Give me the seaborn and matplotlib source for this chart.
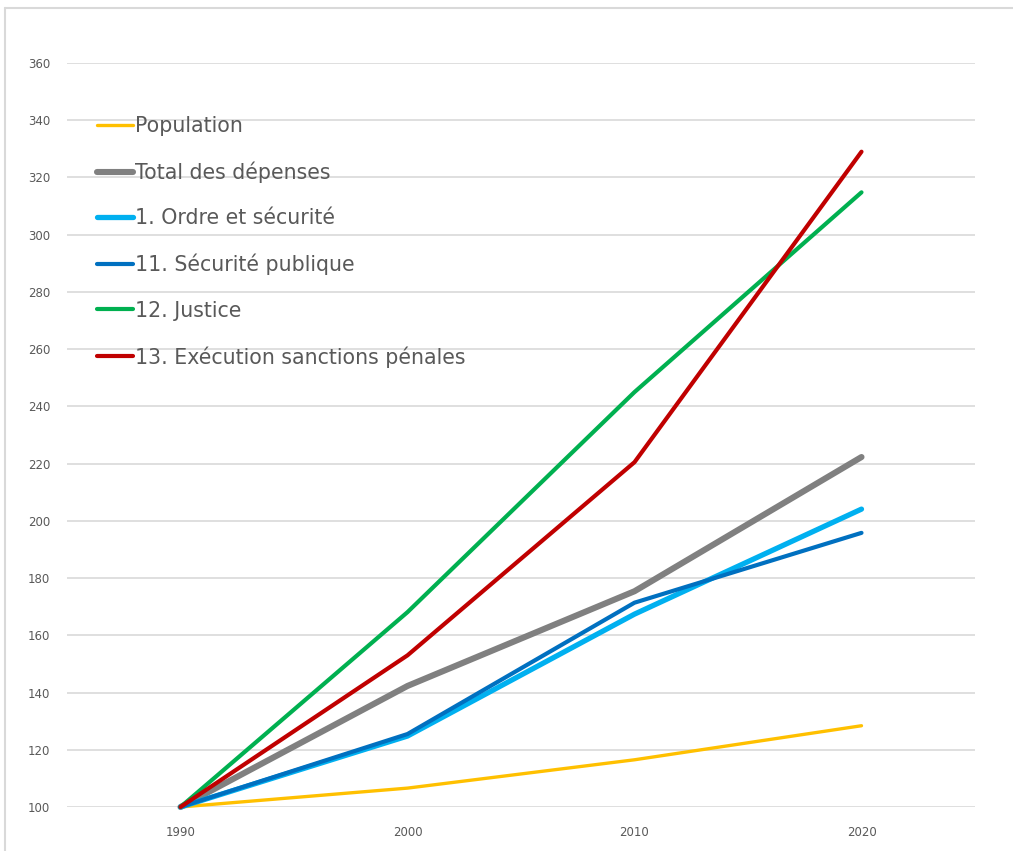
import pandas as pd
import matplotlib.pyplot as plt
import matplotlib.lines as mlines
import seaborn as sns

# Données (indice 1990 = 100)
annees = ['1990', '2000', '2010', '2020']
population = [100, 106.6, 116.5, 128.4]
total_depenses = [100, 142.3, 175.4, 222.3]
ordre_securite = [100, 124.8, 167.4, 204.1]
securite_publique = [100, 125.5, 171.4, 195.8]
justice = [100, 168.1, 245.0, 314.8]
execution_sanctions = [100, 153.0, 220.5, 329.0]

series = ['Population', 'Total des dépenses', '1. Ordre et sécurité',
          '11. Sécurité publique', '12. Justice', '13. Exécution sanctions pénales']
valeurs = [population, total_depenses, ordre_securite, securite_publique,
           justice, execution_sanctions]
couleurs = ['#FFC000', '#808080', '#00B0F0', '#0070C0', '#00B050', '#C00000']
epaisseurs = [2.4, 4.4, 3.8, 3.0, 3.0, 3.0]

df = pd.DataFrame({
    'pos': list(range(len(annees))) * len(series),
    'serie': [s for s in series for _ in annees],
    'valeur': [v for vals in valeurs for v in vals],
})

sns.set_style('white')
plt.rcParams['font.family'] = ['DejaVu Sans']

fig = plt.figure(figsize=(10.13, 8.51), dpi=100)
ax = fig.add_axes([67 / 1013, 44 / 851, 908 / 1013, 744 / 851])

for s, c, lw in zip(series, couleurs, epaisseurs):
    sub = df[df['serie'] == s]
    sns.lineplot(data=sub, x='pos', y='valeur', color=c, linewidth=lw, ax=ax,
                 solid_capstyle='round', clip_on=False, legend=False)

ax.set_xlim(-0.5, 3.5)
ax.set_ylim(100, 360)
ax.set_yticks(range(100, 361, 20))
ax.set_xticks(range(len(annees)))
ax.set_xticklabels(annees)
ax.set_xlabel('')
ax.set_ylabel('')
ax.grid(axis='y', color='#D9D9D9', linewidth=1.2)
ax.set_axisbelow(True)
for sp in ax.spines.values():
    sp.set_visible(False)
ax.tick_params(axis='both', length=0, labelsize=8.5, colors='#595959')
ax.tick_params(axis='y', pad=12)
ax.tick_params(axis='x', pad=14)

handles = [mlines.Line2D([], [], color=c, linewidth=lw, solid_capstyle='round')
           for c, lw in zip(couleurs, epaisseurs)]
leg = ax.legend(handles, series, loc='upper left', bbox_to_anchor=(0.013, 0.954),
                frameon=False, fontsize=14.8, handlelength=1.75, handletextpad=0.1,
                labelspacing=1.24, labelcolor='#595959')

# cadre du graphique
fig.add_artist(mlines.Line2D([5 / 1013, 5 / 1013], [0, 1 - 8 / 851],
                             color='#D9D9D9', linewidth=1.5))
fig.add_artist(mlines.Line2D([5 / 1013, 1], [1 - 8 / 851, 1 - 8 / 851],
                             color='#D9D9D9', linewidth=1.5))

plt.savefig('out.png', dpi=100)
